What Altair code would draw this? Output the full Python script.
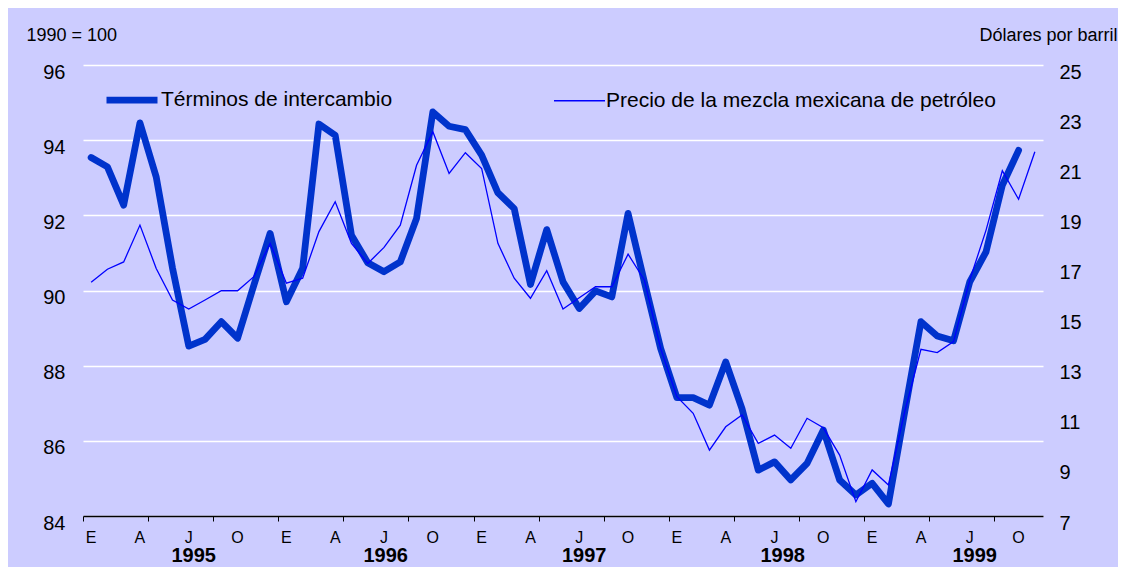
import altair as alt
import pandas as pd

SER1 = "Términos de intercambio"
SER2 = "Precio de la mezcla mexicana de petróleo"

# Terms of trade index (1990 = 100), monthly from Jan 1995
terms = [93.54, 93.29, 92.27, 94.46, 93.02, 90.60, 88.52, 88.70, 89.17, 88.73, 90.14, 91.52,
         89.70, 90.59, 94.43, 94.13, 91.47, 90.74, 90.50, 90.76, 91.92, 94.75, 94.37, 94.28,
         93.60, 92.60, 92.18, 90.16, 91.62, 90.23, 89.52, 89.99, 89.83, 92.05, 90.23, 88.46,
         87.15, 87.15, 86.95, 88.10, 86.86, 85.22, 85.44, 84.96, 85.40, 86.29, 84.96, 84.56,
         84.87, 84.32, 86.77, 89.17, 88.79, 88.66, 90.23, 91.03, 92.80, 93.73]

# Mexican oil mix price (dollars per barrel), monthly from Jan 1995
oil = [16.33, 16.85, 17.14, 18.61, 16.88, 15.62, 15.26, 15.62, 15.99, 15.99, 16.55, 17.88,
       16.29, 16.49, 18.35, 19.54, 17.88, 17.08, 17.72, 18.61, 21.00, 22.34, 20.67, 21.50,
       20.87, 17.88, 16.49, 15.69, 16.79, 15.26, 15.71, 16.15, 16.15, 17.45, 16.42, 13.69,
       11.76, 11.10, 9.63, 10.56, 11.03, 9.90, 10.23, 9.70, 10.90, 10.52, 9.43, 7.57,
       8.84, 8.24, 11.16, 13.65, 13.52, 13.96, 16.42, 18.41, 20.78, 19.64, 21.54]

month_letters = ["E", "A", "J", "O"]
years = ["1995", "1996", "1997", "1998", "1999"]
year_pos = [6.8, 18.6, 30.8, 43.0, 54.8]
n_months = 59

left_ticks = [84, 86, 88, 90, 92, 94, 96]
right_ticks = [7, 9, 11, 13, 15, 17, 19, 21, 23, 25]

FONT = "Liberation Sans"

df1 = pd.DataFrame({"m": [i + 0.5 for i in range(len(terms))], "v": terms, "serie": SER1})
df2 = pd.DataFrame({"m": [i + 0.5 for i in range(len(oil))], "v": oil, "serie": SER2})
mlab = pd.DataFrame({
    "m": [i + 0.5 for i in range(0, n_months, 3)],
    "t": [month_letters[(i // 3) % 4] for i in range(0, n_months, 3)],
})
ylab = pd.DataFrame({"m": year_pos, "t": years})

xenc = alt.X(
    "m:Q",
    scale=alt.Scale(domain=[0, n_months], nice=False, zero=False),
    axis=alt.Axis(values=list(range(n_months + 1)), labels=False, grid=False,
                  tickSize=5, tickColor="black", tickWidth=1,
                  domainColor="black", domainWidth=1.5, title=None, zindex=1),
)

legend = alt.Legend(
    title=None, orient="none", legendX=20, legendY=6, direction="horizontal",
    symbolType="stroke", symbolSize=2601, labelFontSize=21, labelFont=FONT,
    labelColor="black", labelLimit=600, columnPadding=158, labelOffset=0,
)
color = alt.Color("serie:N", scale=alt.Scale(domain=[SER1, SER2], range=["#0033CC", "#0000FF"]),
                  legend=legend)
swidth = alt.StrokeWidth("serie:N", scale=alt.Scale(domain=[SER1, SER2], range=[6.8, 1.3]),
                         legend=legend)

thick = alt.Chart(df1).mark_line(strokeJoin="round", strokeCap="round").encode(
    x=xenc,
    y=alt.Y("v:Q", scale=alt.Scale(domain=[84, 96], nice=False, zero=False),
            axis=alt.Axis(orient="left", values=left_ticks, grid=True, gridColor="white",
                          gridWidth=1.3, ticks=False, domain=False, labelFontSize=20,
                          labelPadding=18, labelOffset=7, labelColor="black",
                          title="1990 = 100", titleAngle=0, titleAlign="left",
                          titleX=-57, titleY=-30, titleBaseline="middle",
                          titleFontSize=18, titleFontWeight="normal", titleColor="black")),
    color=color,
    strokeWidth=swidth,
)

thin = alt.Chart(df2).mark_line(strokeJoin="miter").encode(
    x=xenc,
    y=alt.Y("v:Q", scale=alt.Scale(domain=[7, 25], nice=False, zero=False),
            axis=alt.Axis(orient="right", values=right_ticks, grid=False, ticks=False,
                          domain=False, labelFontSize=20, labelPadding=16, labelOffset=7,
                          labelColor="black", title="Dólares por barril", titleAngle=0,
                          titleAlign="right", titleX=74, titleY=-30, titleBaseline="middle",
                          titleFontSize=18, titleFontWeight="normal", titleColor="black")),
    color=color,
    strokeWidth=swidth,
)

months = alt.Chart(mlab).mark_text(fontSize=16, font=FONT, color="black", baseline="middle").encode(
    x=alt.X("m:Q"), y=alt.value(473), text="t:N"
)
yrs = alt.Chart(ylab).mark_text(fontSize=20, font=FONT, fontWeight="bold", color="black",
                                baseline="middle").encode(
    x=alt.X("m:Q"), y=alt.value(491), text="t:N"
)

chart = alt.layer(thick, thin, months, yrs).resolve_scale(y="independent").properties(
    width=960, height=451,
    autosize=alt.AutoSizeParams(type="none"),
    padding={"left": 75, "top": 57, "right": 75, "bottom": 51},
    background="#CCCCFF",
).configure_view(strokeWidth=0).configure_axis(
    labelFont=FONT, titleFont=FONT
).configure_legend(labelFont=FONT)

chart.save("out.html", embed_options={"renderer": "svg", "actions": False})
